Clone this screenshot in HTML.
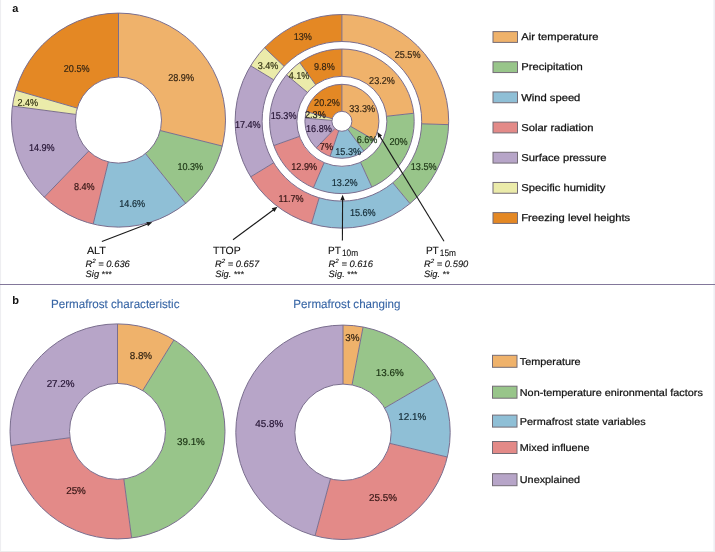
<!DOCTYPE html>
<html><head><meta charset="utf-8"><style>
html,body{margin:0;padding:0;background:#fff;}
body{width:715px;height:552px;overflow:hidden;position:relative;}
svg{position:absolute;left:0;top:0;filter:blur(0.3px);}
text{font-family:"Liberation Sans",Arial,sans-serif;text-rendering:geometricPrecision;}
</style></head><body>
<svg width="715" height="552" viewBox="0 0 715 552">
<rect x="0" y="0" width="715" height="552" fill="#fff"/>


<g><path d="M118.50,13.10A107,107 0 0 1 222.30,146.06L160.22,130.53A43,43 0 0 0 118.50,77.10Z" fill="#EFB26B"/>
<path d="M222.30,146.06A107,107 0 0 1 185.66,203.40L145.49,153.57A43,43 0 0 0 160.22,130.53Z" fill="#98C58A"/>
<path d="M185.66,203.40A107,107 0 0 1 93.19,224.06L108.33,161.88A43,43 0 0 0 145.49,153.57Z" fill="#8FBFD6"/>
<path d="M93.19,224.06A107,107 0 0 1 44.28,197.17L88.67,151.07A43,43 0 0 0 108.33,161.88Z" fill="#E38A88"/>
<path d="M44.28,197.17A107,107 0 0 1 12.43,106.02L75.87,114.44A43,43 0 0 0 88.67,151.07Z" fill="#B7A5C8"/>
<path d="M12.43,106.02A107,107 0 0 1 15.75,90.25L77.21,108.10A43,43 0 0 0 75.87,114.44Z" fill="#EBEBAA"/>
<path d="M15.75,90.25A107,107 0 0 1 118.50,13.10L118.50,77.10A43,43 0 0 0 77.21,108.10Z" fill="#E48824"/>
<path d="M341.90,14.50A106.8,106.8 0 0 1 448.65,124.65L421.66,123.81A79.8,79.8 0 0 0 341.90,41.50Z" fill="#EFB26B"/>
<path d="M448.65,124.65A106.8,106.8 0 0 1 409.98,203.59L392.77,182.79A79.8,79.8 0 0 0 421.66,123.81Z" fill="#98C58A"/>
<path d="M409.98,203.59A106.8,106.8 0 0 1 311.46,223.67L319.16,197.79A79.8,79.8 0 0 0 392.77,182.79Z" fill="#8FBFD6"/>
<path d="M311.46,223.67A106.8,106.8 0 0 1 250.66,176.82L273.73,162.78A79.8,79.8 0 0 0 319.16,197.79Z" fill="#E38A88"/>
<path d="M250.66,176.82A106.8,106.8 0 0 1 250.66,65.78L273.73,79.82A79.8,79.8 0 0 0 273.73,162.78Z" fill="#B7A5C8"/>
<path d="M250.66,65.78A106.8,106.8 0 0 1 264.51,47.70L284.07,66.31A79.8,79.8 0 0 0 273.73,79.82Z" fill="#EBEBAA"/>
<path d="M264.51,47.70A106.8,106.8 0 0 1 341.90,14.50L341.90,41.50A79.8,79.8 0 0 0 284.07,66.31Z" fill="#E48824"/>
<path d="M341.90,49.00A72.3,72.3 0 0 1 413.75,113.24L386.62,116.28A45,45 0 0 0 341.90,76.30Z" fill="#EFB26B"/>
<path d="M413.75,113.24A72.3,72.3 0 0 1 371.88,187.09L360.56,162.25A45,45 0 0 0 386.62,116.28Z" fill="#98C58A"/>
<path d="M371.88,187.09A72.3,72.3 0 0 1 313.42,187.75L324.17,162.66A45,45 0 0 0 360.56,162.25Z" fill="#8FBFD6"/>
<path d="M313.42,187.75A72.3,72.3 0 0 1 273.79,145.55L299.51,136.40A45,45 0 0 0 324.17,162.66Z" fill="#E38A88"/>
<path d="M273.79,145.55A72.3,72.3 0 0 1 286.51,74.83L307.43,92.37A45,45 0 0 0 299.51,136.40Z" fill="#B7A5C8"/>
<path d="M286.51,74.83A72.3,72.3 0 0 1 299.71,62.59L315.64,84.76A45,45 0 0 0 307.43,92.37Z" fill="#EBEBAA"/>
<path d="M299.71,62.59A72.3,72.3 0 0 1 341.90,49.00L341.90,76.30A45,45 0 0 0 315.64,84.76Z" fill="#E48824"/>
<path d="M341.90,84.30A37,37 0 0 1 373.94,139.80L350.56,126.30A10,10 0 0 0 341.90,111.30Z" fill="#EFB26B"/>
<path d="M373.94,139.80A37,37 0 0 1 363.86,151.08L347.83,129.35A10,10 0 0 0 350.56,126.30Z" fill="#98C58A"/>
<path d="M363.86,151.08A37,37 0 0 1 330.10,156.37L338.71,130.78A10,10 0 0 0 347.83,129.35Z" fill="#8FBFD6"/>
<path d="M330.10,156.37A37,37 0 0 1 316.20,147.92L334.95,128.49A10,10 0 0 0 338.71,130.78Z" fill="#E38A88"/>
<path d="M316.20,147.92A37,37 0 0 1 305.04,118.08L331.94,120.43A10,10 0 0 0 334.95,128.49Z" fill="#B7A5C8"/>
<path d="M305.04,118.08A37,37 0 0 1 306.19,111.60L332.25,118.68A10,10 0 0 0 331.94,120.43Z" fill="#EBEBAA"/>
<path d="M306.19,111.60A37,37 0 0 1 341.90,84.30L341.90,111.30A10,10 0 0 0 332.25,118.68Z" fill="#E48824"/>
<path d="M117.50,323.90A107.5,107.5 0 0 1 173.96,339.92L142.71,390.55A48,48 0 0 0 117.50,383.40Z" fill="#EFB26B"/>
<path d="M173.96,339.92A107.5,107.5 0 0 1 131.64,537.97L123.82,478.98A48,48 0 0 0 142.71,390.55Z" fill="#98C58A"/>
<path d="M131.64,537.97A107.5,107.5 0 0 1 10.93,445.54L69.92,437.72A48,48 0 0 0 123.82,478.98Z" fill="#E38A88"/>
<path d="M10.93,445.54A107.5,107.5 0 0 1 117.50,323.90L117.50,383.40A48,48 0 0 0 69.92,437.72Z" fill="#B7A5C8"/>
<path d="M343.00,325.10A107.2,107.2 0 0 1 363.09,327.00L352.03,384.95A48.2,48.2 0 0 0 343.00,384.10Z" fill="#EFB26B"/>
<path d="M363.09,327.00A107.2,107.2 0 0 1 435.61,378.31L384.64,408.03A48.2,48.2 0 0 0 352.03,384.95Z" fill="#98C58A"/>
<path d="M435.61,378.31A107.2,107.2 0 0 1 447.32,457.00L389.90,443.40A48.2,48.2 0 0 0 384.64,408.03Z" fill="#8FBFD6"/>
<path d="M447.32,457.00A107.2,107.2 0 0 1 315.04,535.79L330.43,478.83A48.2,48.2 0 0 0 389.90,443.40Z" fill="#E38A88"/>
<path d="M315.04,535.79A107.2,107.2 0 0 1 343.00,325.10L343.00,384.10A48.2,48.2 0 0 0 330.43,478.83Z" fill="#B7A5C8"/></g>
<g fill="none" stroke="#7a6e8e" stroke-width="1.0"><line x1="118.50" y1="77.10" x2="118.50" y2="13.10"/>
<line x1="160.22" y1="130.53" x2="222.30" y2="146.06"/>
<line x1="145.49" y1="153.57" x2="185.66" y2="203.40"/>
<line x1="108.33" y1="161.88" x2="93.19" y2="224.06"/>
<line x1="88.67" y1="151.07" x2="44.28" y2="197.17"/>
<line x1="75.87" y1="114.44" x2="12.43" y2="106.02"/>
<line x1="77.21" y1="108.10" x2="15.75" y2="90.25"/>
<circle cx="118.5" cy="120.1" r="107"/>
<circle cx="118.5" cy="120.1" r="43"/>
<line x1="341.90" y1="41.50" x2="341.90" y2="14.50"/>
<line x1="421.66" y1="123.81" x2="448.65" y2="124.65"/>
<line x1="392.77" y1="182.79" x2="409.98" y2="203.59"/>
<line x1="319.16" y1="197.79" x2="311.46" y2="223.67"/>
<line x1="273.73" y1="162.78" x2="250.66" y2="176.82"/>
<line x1="273.73" y1="79.82" x2="250.66" y2="65.78"/>
<line x1="284.07" y1="66.31" x2="264.51" y2="47.70"/>
<circle cx="341.9" cy="121.3" r="106.8"/>
<circle cx="341.9" cy="121.3" r="79.8"/>
<line x1="341.90" y1="76.30" x2="341.90" y2="49.00"/>
<line x1="386.62" y1="116.28" x2="413.75" y2="113.24"/>
<line x1="360.56" y1="162.25" x2="371.88" y2="187.09"/>
<line x1="324.17" y1="162.66" x2="313.42" y2="187.75"/>
<line x1="299.51" y1="136.40" x2="273.79" y2="145.55"/>
<line x1="307.43" y1="92.37" x2="286.51" y2="74.83"/>
<line x1="315.64" y1="84.76" x2="299.71" y2="62.59"/>
<circle cx="341.9" cy="121.3" r="72.3"/>
<circle cx="341.9" cy="121.3" r="45"/>
<line x1="341.90" y1="111.30" x2="341.90" y2="84.30"/>
<line x1="350.56" y1="126.30" x2="373.94" y2="139.80"/>
<line x1="347.83" y1="129.35" x2="363.86" y2="151.08"/>
<line x1="338.71" y1="130.78" x2="330.10" y2="156.37"/>
<line x1="334.95" y1="128.49" x2="316.20" y2="147.92"/>
<line x1="331.94" y1="120.43" x2="305.04" y2="118.08"/>
<line x1="332.25" y1="118.68" x2="306.19" y2="111.60"/>
<circle cx="341.9" cy="121.3" r="37"/>
<circle cx="341.9" cy="121.3" r="10"/>
<line x1="117.50" y1="383.40" x2="117.50" y2="323.90"/>
<line x1="142.71" y1="390.55" x2="173.96" y2="339.92"/>
<line x1="123.82" y1="478.98" x2="131.64" y2="537.97"/>
<line x1="69.92" y1="437.72" x2="10.93" y2="445.54"/>
<circle cx="117.5" cy="431.4" r="107.5"/>
<circle cx="117.5" cy="431.4" r="48"/>
<line x1="343.00" y1="384.10" x2="343.00" y2="325.10"/>
<line x1="352.03" y1="384.95" x2="363.09" y2="327.00"/>
<line x1="384.64" y1="408.03" x2="435.61" y2="378.31"/>
<line x1="389.90" y1="443.40" x2="447.32" y2="457.00"/>
<line x1="330.43" y1="478.83" x2="315.04" y2="535.79"/>
<circle cx="343.0" cy="432.3" r="107.2"/>
<circle cx="343.0" cy="432.3" r="48.2"/></g>
<line x1="101.9" y1="241.5" x2="148.10" y2="223.81" stroke="#1a1a1a" stroke-width="1.1"/>
<polygon points="152.3,222.2 147.97,226.27 146.36,222.07" fill="#1a1a1a"/>
<line x1="233" y1="239.8" x2="273.89" y2="209.48" stroke="#1a1a1a" stroke-width="1.1"/>
<polygon points="277.5,206.8 274.42,211.88 271.74,208.27" fill="#1a1a1a"/>
<line x1="342.4" y1="240.5" x2="342.58" y2="199.20" stroke="#1a1a1a" stroke-width="1.1"/>
<polygon points="342.6,194.7 344.83,200.21 340.33,200.19" fill="#1a1a1a"/>
<line x1="444" y1="241.3" x2="379.64" y2="135.84" stroke="#1a1a1a" stroke-width="1.1"/>
<polygon points="377.3,132 382.09,135.52 378.24,137.87" fill="#1a1a1a"/>
<rect x="493" y="31.6" width="24.5" height="10.8" fill="#EFB26B" stroke="#746c76" stroke-width="1"/>
<rect x="493" y="61.77" width="24.5" height="10.8" fill="#98C58A" stroke="#746c76" stroke-width="1"/>
<rect x="493" y="91.94" width="24.5" height="10.8" fill="#8FBFD6" stroke="#746c76" stroke-width="1"/>
<rect x="493" y="122.11000000000001" width="24.5" height="10.8" fill="#E38A88" stroke="#746c76" stroke-width="1"/>
<rect x="493" y="152.28" width="24.5" height="10.8" fill="#B7A5C8" stroke="#746c76" stroke-width="1"/>
<rect x="493" y="182.45000000000002" width="24.5" height="10.8" fill="#EBEBAA" stroke="#746c76" stroke-width="1"/>
<rect x="493" y="212.62" width="24.5" height="10.8" fill="#E48824" stroke="#746c76" stroke-width="1"/>
<rect x="492.5" y="355.3" width="24.5" height="12" fill="#EFB26B" stroke="#746c76" stroke-width="1"/>
<rect x="492.5" y="386.2" width="24.5" height="12" fill="#98C58A" stroke="#746c76" stroke-width="1"/>
<rect x="492.5" y="415.1" width="24.5" height="12" fill="#8FBFD6" stroke="#746c76" stroke-width="1"/>
<rect x="492.5" y="441.5" width="24.5" height="12" fill="#E38A88" stroke="#746c76" stroke-width="1"/>
<rect x="492.5" y="473.7" width="24.5" height="12" fill="#B7A5C8" stroke="#746c76" stroke-width="1"/>
<text transform="translate(181.10,80.60) scale(0.9100,1)" font-size="10" text-anchor="middle" fill="#332413" stroke="#332413" stroke-width="0.18">28.9%</text>
<text transform="translate(190.30,170.40) scale(0.9100,1)" font-size="10" text-anchor="middle" fill="#1b3313" stroke="#1b3313" stroke-width="0.18">10.3%</text>
<text transform="translate(132.20,206.90) scale(0.9100,1)" font-size="10" text-anchor="middle" fill="#132933" stroke="#132933" stroke-width="0.18">14.6%</text>
<text transform="translate(84.30,190.40) scale(0.9100,1)" font-size="10" text-anchor="middle" fill="#331413" stroke="#331413" stroke-width="0.18">8.4%</text>
<text transform="translate(41.80,151.00) scale(0.9100,1)" font-size="10" text-anchor="middle" fill="#241333" stroke="#241333" stroke-width="0.18">14.9%</text>
<text transform="translate(27.80,105.90) scale(0.9100,1)" font-size="10" text-anchor="middle" fill="#333313" stroke="#333313" stroke-width="0.18">2.4%</text>
<text transform="translate(76.70,71.70) scale(0.9100,1)" font-size="10" text-anchor="middle" fill="#332413" stroke="#332413" stroke-width="0.18">20.5%</text>
<text transform="translate(407.60,57.80) scale(0.9100,1)" font-size="10" text-anchor="middle" fill="#332413" stroke="#332413" stroke-width="0.18">25.5%</text>
<text transform="translate(423.70,170.30) scale(0.9100,1)" font-size="10" text-anchor="middle" fill="#1b3313" stroke="#1b3313" stroke-width="0.18">13.5%</text>
<text transform="translate(362.80,215.90) scale(0.9100,1)" font-size="10" text-anchor="middle" fill="#132933" stroke="#132933" stroke-width="0.18">15.6%</text>
<text transform="translate(291.10,202.20) scale(0.9100,1)" font-size="10" text-anchor="middle" fill="#331413" stroke="#331413" stroke-width="0.18">11.7%</text>
<text transform="translate(247.80,127.90) scale(0.9100,1)" font-size="10" text-anchor="middle" fill="#241333" stroke="#241333" stroke-width="0.18">17.4%</text>
<text transform="translate(268.00,69.10) scale(0.9100,1)" font-size="10" text-anchor="middle" fill="#333313" stroke="#333313" stroke-width="0.18">3.4%</text>
<text transform="translate(302.80,39.80) scale(0.9100,1)" font-size="10" text-anchor="middle" fill="#332413" stroke="#332413" stroke-width="0.18">13%</text>
<text transform="translate(382.00,83.90) scale(0.9100,1)" font-size="10" text-anchor="middle" fill="#332413" stroke="#332413" stroke-width="0.18">23.2%</text>
<text transform="translate(398.50,145.10) scale(0.9100,1)" font-size="10" text-anchor="middle" fill="#1b3313" stroke="#1b3313" stroke-width="0.18">20%</text>
<text transform="translate(344.70,186.40) scale(0.9100,1)" font-size="10" text-anchor="middle" fill="#132933" stroke="#132933" stroke-width="0.18">13.2%</text>
<text transform="translate(304.20,170.30) scale(0.9100,1)" font-size="10" text-anchor="middle" fill="#331413" stroke="#331413" stroke-width="0.18">12.9%</text>
<text transform="translate(283.60,118.60) scale(0.9100,1)" font-size="10" text-anchor="middle" fill="#241333" stroke="#241333" stroke-width="0.18">15.3%</text>
<text transform="translate(299.00,79.00) scale(0.9100,1)" font-size="10" text-anchor="middle" fill="#333313" stroke="#333313" stroke-width="0.18">4.1%</text>
<text transform="translate(324.40,70.30) scale(0.9100,1)" font-size="10" text-anchor="middle" fill="#332413" stroke="#332413" stroke-width="0.18">9.8%</text>
<text transform="translate(362.20,112.00) scale(0.9100,1)" font-size="10" text-anchor="middle" fill="#332413" stroke="#332413" stroke-width="0.18">33.3%</text>
<text transform="translate(367.00,143.40) scale(0.9100,1)" font-size="10" text-anchor="middle" fill="#1b3313" stroke="#1b3313" stroke-width="0.18">6.6%</text>
<text transform="translate(348.20,154.60) scale(0.9100,1)" font-size="10" text-anchor="middle" fill="#132933" stroke="#132933" stroke-width="0.18">15.3%</text>
<text transform="translate(326.40,149.80) scale(0.9100,1)" font-size="10" text-anchor="middle" fill="#331413" stroke="#331413" stroke-width="0.18">7%</text>
<text transform="translate(318.90,131.70) scale(0.9100,1)" font-size="10" text-anchor="middle" fill="#241333" stroke="#241333" stroke-width="0.18">16.8%</text>
<text transform="translate(315.40,118.40) scale(0.9100,1)" font-size="10" text-anchor="middle" fill="#1a181a" stroke="#1a181a" stroke-width="0.18">2.3%</text>
<text transform="translate(327.00,106.00) scale(0.9100,1)" font-size="10" text-anchor="middle" fill="#332413" stroke="#332413" stroke-width="0.18">20.2%</text>
<text transform="translate(140.90,359.40) scale(0.9850,1)" font-size="10" text-anchor="middle" fill="#332413" stroke="#332413" stroke-width="0.18">8.8%</text>
<text transform="translate(190.90,445.40) scale(0.9850,1)" font-size="10" text-anchor="middle" fill="#1b3313" stroke="#1b3313" stroke-width="0.18">39.1%</text>
<text transform="translate(76.00,493.90) scale(0.9850,1)" font-size="10" text-anchor="middle" fill="#331413" stroke="#331413" stroke-width="0.18">25%</text>
<text transform="translate(60.60,387.40) scale(0.9850,1)" font-size="10" text-anchor="middle" fill="#241333" stroke="#241333" stroke-width="0.18">27.2%</text>
<text transform="translate(352.30,341.00) scale(0.9850,1)" font-size="10" text-anchor="middle" fill="#332413" stroke="#332413" stroke-width="0.18">3%</text>
<text transform="translate(389.70,375.60) scale(0.9850,1)" font-size="10" text-anchor="middle" fill="#1b3313" stroke="#1b3313" stroke-width="0.18">13.6%</text>
<text transform="translate(412.30,419.50) scale(0.9850,1)" font-size="10" text-anchor="middle" fill="#132933" stroke="#132933" stroke-width="0.18">12.1%</text>
<text transform="translate(383.00,500.50) scale(0.9850,1)" font-size="10" text-anchor="middle" fill="#331413" stroke="#331413" stroke-width="0.18">25.5%</text>
<text transform="translate(269.20,427.10) scale(0.9850,1)" font-size="10" text-anchor="middle" fill="#241333" stroke="#241333" stroke-width="0.18">45.8%</text>
<text transform="translate(521.20,40.20) scale(1.1200,1)" font-size="10" fill="#111" stroke="#111" stroke-width="0.25">Air temperature</text>
<text transform="translate(521.20,70.37) scale(1.1200,1)" font-size="10" fill="#111" stroke="#111" stroke-width="0.25">Precipitation</text>
<text transform="translate(521.20,100.54) scale(1.1200,1)" font-size="10" fill="#111" stroke="#111" stroke-width="0.25">Wind speed</text>
<text transform="translate(521.20,130.71) scale(1.1200,1)" font-size="10" fill="#111" stroke="#111" stroke-width="0.25">Solar radiation</text>
<text transform="translate(521.20,160.88) scale(1.1200,1)" font-size="10" fill="#111" stroke="#111" stroke-width="0.25">Surface pressure</text>
<text transform="translate(521.20,191.05) scale(1.1200,1)" font-size="10" fill="#111" stroke="#111" stroke-width="0.25">Specific humidity</text>
<text transform="translate(521.20,221.22) scale(1.1200,1)" font-size="10" fill="#111" stroke="#111" stroke-width="0.25">Freezing level heights</text>
<text transform="translate(519.80,364.80) scale(1.0830,1)" font-size="10" fill="#111" stroke="#111" stroke-width="0.22">Temperature</text>
<text transform="translate(519.80,395.70) scale(1.0830,1)" font-size="10" fill="#111" stroke="#111" stroke-width="0.22">Non-temperature enironmental factors</text>
<text transform="translate(519.80,424.60) scale(1.0830,1)" font-size="10" fill="#111" stroke="#111" stroke-width="0.22">Permafrost state variables</text>
<text transform="translate(519.80,451.00) scale(1.0830,1)" font-size="10" fill="#111" stroke="#111" stroke-width="0.22">Mixed influene</text>
<text transform="translate(519.80,483.20) scale(1.0830,1)" font-size="10" fill="#111" stroke="#111" stroke-width="0.22">Unexplained</text>
<text transform="translate(51.00,307.90) scale(0.9680,1)" font-size="12" fill="#3765a5" stroke="#3765a5" stroke-width="0.1">Permafrost characteristic</text>
<text transform="translate(293.30,307.90) scale(0.9680,1)" font-size="12" fill="#3765a5" stroke="#3765a5" stroke-width="0.1">Permafrost changing</text>
<text transform="translate(12.30,11.70) scale(1.0000,1)" font-size="11" font-weight="bold" fill="#111">a</text>
<text transform="translate(12.30,304.00) scale(1.0000,1)" font-size="11" font-weight="bold" fill="#111">b</text>
<text transform="translate(86.90,254.20) scale(1.0300,1)" font-size="10.5" fill="#111" stroke="#111" stroke-width="0.1">ALT</text>
<text transform="translate(85.50,267.20) scale(1.0200,1)" font-size="9.2" font-style="italic" fill="#111" stroke="#111" stroke-width="0.1">R<tspan font-size="6" dy="-4">2</tspan><tspan dy="4"> = 0.636</tspan></text>
<text transform="translate(85.60,276.90) scale(1.0200,1)" font-size="9.2" font-style="italic" fill="#111" stroke="#111" stroke-width="0.1">Sig <tspan font-style="normal" font-size="8.5" dy="-0.4">***</tspan></text>
<text transform="translate(213.00,254.20) scale(0.9950,1)" font-size="10.5" fill="#111" stroke="#111" stroke-width="0.1">TTOP</text>
<text transform="translate(214.90,267.20) scale(1.0200,1)" font-size="9.2" font-style="italic" fill="#111" stroke="#111" stroke-width="0.1">R<tspan font-size="6" dy="-4">2</tspan><tspan dy="4"> = 0.657</tspan></text>
<text transform="translate(215.20,276.90) scale(1.0200,1)" font-size="9.2" font-style="italic" fill="#111" stroke="#111" stroke-width="0.1">Sig. <tspan font-style="normal" font-size="8.5" dy="-0.4">***</tspan></text>
<text transform="translate(328.10,254.20) scale(0.9600,1)" font-size="10.5" fill="#111" stroke="#111" stroke-width="0.1">PT</text>
<text transform="translate(341.90,256.40) scale(0.9050,1)" font-size="9.2" fill="#111" stroke="#111" stroke-width="0.1">10m</text>
<text transform="translate(328.60,267.20) scale(1.0200,1)" font-size="9.2" font-style="italic" fill="#111" stroke="#111" stroke-width="0.1">R<tspan font-size="6" dy="-4">2</tspan><tspan dy="4"> = 0.616</tspan></text>
<text transform="translate(328.60,276.90) scale(1.0200,1)" font-size="9.2" font-style="italic" fill="#111" stroke="#111" stroke-width="0.1">Sig. <tspan font-style="normal" font-size="8.5" dy="-0.4">***</tspan></text>
<text transform="translate(425.90,254.20) scale(0.9600,1)" font-size="10.5" fill="#111" stroke="#111" stroke-width="0.1">PT</text>
<text transform="translate(439.80,256.40) scale(0.9050,1)" font-size="9.2" fill="#111" stroke="#111" stroke-width="0.1">15m</text>
<text transform="translate(424.00,267.20) scale(1.0200,1)" font-size="9.2" font-style="italic" fill="#111" stroke="#111" stroke-width="0.1">R<tspan font-size="6" dy="-4">2</tspan><tspan dy="4"> = 0.590</tspan></text>
<text transform="translate(424.00,276.90) scale(1.0200,1)" font-size="9.2" font-style="italic" fill="#111" stroke="#111" stroke-width="0.1">Sig. <tspan font-style="normal" font-size="8.5" dy="-0.4">**</tspan></text>

<rect x="0" y="0" width="1.1" height="552" fill="#eeeef1"/>
<rect x="713.4" y="0" width="1.6" height="552" fill="#efeff3"/>
<rect x="0" y="551" width="715" height="1" fill="#ececec"/>
<rect x="0" y="284" width="715" height="1" fill="#82779a"/>

</svg>
</body></html>
